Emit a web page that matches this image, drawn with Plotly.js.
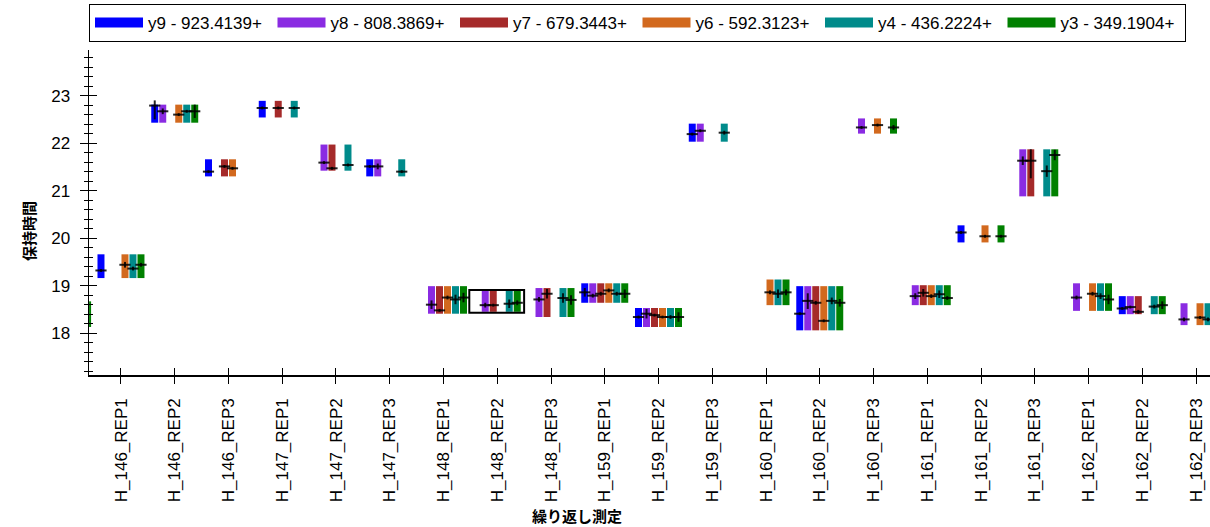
<!DOCTYPE html>
<html>
<head>
<meta charset="utf-8">
<script src="https://cdn.plot.ly/plotly-3.0.1.min.js"></script>
<style>html,body{margin:0;padding:0;background:#fff;}#chart{width:1210px;height:527px;}</style>
</head>
<body>
<div id="chart"></div>
<script>
// ---- data ----
const categories = ["H_146_REP1","H_146_REP2","H_146_REP3","H_147_REP1","H_147_REP2","H_147_REP3",
  "H_148_REP1","H_148_REP2","H_148_REP3","H_159_REP1","H_159_REP2","H_159_REP3",
  "H_160_REP1","H_160_REP2","H_160_REP3","H_161_REP1","H_161_REP2","H_161_REP3",
  "H_162_REP1","H_162_REP2","H_162_REP3"];

// integrated peak boundaries (bar bottom / top) per replicate
const peakStart = [19.16,22.43,21.30,22.54,21.42,21.30,18.41,18.45,18.34,18.64,18.13,22.03,18.59,18.06,22.20,18.59,19.91,20.88,18.47,18.40,18.17];
const peakEnd   = [19.66,22.81,21.66,22.89,21.97,21.66,18.99,18.89,18.95,19.05,18.53,22.41,19.13,18.99,22.52,19.01,20.27,21.87,19.05,18.78,18.63];

const seriesNames = ["y9 - 923.4139+","y8 - 808.3869+","y7 - 679.3443+","y6 - 592.3123+","y4 - 436.2224+","y3 - 349.1904+"];
const seriesColors = ["#0000FF","#8A2BE2","#A52A2A","#D2691E","#008B8B","#008000"];

// retention time of each transition (null = not detected)
const rtY9 = [19.32,22.79,21.40,22.74,null,21.51,null,null,null,18.86,18.34,22.19,null,18.41,null,null,20.12,null,null,18.52,null];
const rtY8 = [null,22.67,null,null,21.59,21.51,18.60,18.59,18.71,18.79,18.41,22.26,null,18.68,22.33,18.78,null,21.63,18.75,18.55,18.29];
const rtY7 = [null,null,21.51,22.74,21.47,null,18.48,18.59,18.83,18.83,18.38,null,null,18.64,null,18.85,null,21.63,null,18.45,null];
const rtY6 = [19.44,22.60,21.47,null,null,null,18.75,null,null,18.90,18.34,null,18.86,18.26,22.38,18.78,20.04,null,18.83,null,18.33];
const rtY4 = [19.36,22.67,null,22.74,21.54,21.40,18.71,18.62,18.74,18.83,18.34,22.22,18.83,18.68,null,18.82,null,21.41,18.78,18.56,18.29];
const rtY3 = [19.44,22.67,null,null,null,null,18.75,18.64,18.70,18.83,18.34,null,18.86,18.64,22.33,18.74,20.04,21.75,18.71,18.59,null];

// vertical extent of the cross markers (up / down)
const errUpY9 = [0.03,0.11,0.03,0.03,0,0.03,0,0,0,0.09,0.03,0.03,0,0.03,0,0,0.03,0,0,0.03,0];
const errDnY9 = [0.03,0.29,0.03,0.03,0,0.03,0,0,0,0.09,0.03,0.03,0,0.03,0,0,0.03,0,0,0.03,0];
const errUpY8 = [0,0.06,0,0,0.03,0.06,0.09,0.05,0.05,0.04,0.10,0.03,0,0.16,0.03,0.06,0,0.09,0.04,0.03,0.04];
const errDnY8 = [0,0.06,0,0,0.03,0.06,0.09,0.05,0.05,0.04,0.10,0.03,0,0.17,0.03,0.06,0,0.09,0.04,0.03,0.04];
const errUpY7 = [0,0,0.03,0.03,0.03,0,0.03,0.03,0.10,0.04,0.03,0,0,0.04,0,0.08,0,0.24,0,0.04,0];
const errDnY7 = [0,0,0.03,0.03,0.03,0,0.03,0.03,0.10,0.04,0.03,0,0,0.04,0,0.08,0,0.37,0,0.04,0];
const errY6 = [0.06,0.03,0.03,0,0,0,0.04,0,0,0.04,0.03,0,0.04,0.03,0.03,0.04,0.03,0,0.04,0,0.03];
const errY4 = [0.04,0.03,0,0.03,0.03,0.03,0.10,0.09,0.10,0.04,0.04,0.04,0.09,0.07,0,0.08,0,0.12,0.06,0.04,0.04];
const errY3 = [0.04,0.14,0,0,0,0,0.10,0.05,0.10,0.09,0.10,0,0.06,0.08,0.05,0.04,0.03,0.11,0.10,0.08,0];

// small green sliver visible at the left axis edge
const edgeSliverY = [18.13, 18.67];
const selectedIndex = 7; // highlighted replicate (H_148_REP2)

// ---- build traces ----
const rtSeries = [rtY9, rtY8, rtY7, rtY6, rtY4, rtY3];
const errUp = [errUpY9, errUpY8, errUpY7, errY6, errY4, errY3];
const errDn = [errDnY9, errDnY8, errDnY7, errY6, errY4, errY3];

const xRange = [-0.595, 20.26];
const slotPitch = 0.1488;
const barWidth = 0.13;
const nSlots = seriesNames.length;

const traces = [];
rtSeries.forEach((rt, s) => {
  const off = (s - (nSlots - 1) / 2) * slotPitch;
  const xs = [], bases = [], lens = [], ys = [], eu = [], ed = [];
  rt.forEach((v, i) => {
    if (v === null) return;
    xs.push(i + off);
    bases.push(peakStart[i]);
    lens.push(peakEnd[i] - peakStart[i]);
    ys.push(v);
    eu.push(errUp[s][i]);
    ed.push(errDn[s][i]);
  });
  traces.push({
    type: 'bar', x: xs, y: lens, base: bases, width: barWidth,
    marker: {color: seriesColors[s], line: {width: 0}},
    showlegend: false, hoverinfo: 'skip'
  });
  traces.push({
    type: 'scatter', mode: 'markers', x: xs, y: ys,
    marker: {symbol: 'line-ew', size: 8, line: {width: 2, color: 'rgba(0,0,0,0.85)'}},
    error_y: {type: 'data', symmetric: false, array: eu, arrayminus: ed, width: 0, thickness: 2, color: 'rgba(0,0,0,0.85)'},
    showlegend: false, hoverinfo: 'skip'
  });
});

// legend entries
seriesNames.forEach((name, s) => {
  traces.push({
    type: 'scatter', mode: 'lines', x: [null], y: [null], name: name,
    line: {color: seriesColors[s], width: 11}
  });
});

// green sliver at axis edge
traces.push({
  type: 'scatter', mode: 'lines', x: [xRange[0] + 0.02, xRange[0] + 0.02], y: edgeSliverY,
  line: {color: '#008000', width: 2}, showlegend: false, hoverinfo: 'skip'
});

// helper trace for the overlay axes (inner half of crossing ticks)
traces.push({type: 'scatter', x: [null], y: [null], xaxis: 'x2', yaxis: 'y2', showlegend: false, hoverinfo: 'skip'});

// selection rectangle around highlighted replicate
const selPadX = 0.52;
const shapes = [{
  type: 'rect', xref: 'x', yref: 'y',
  x0: selectedIndex - selPadX, x1: selectedIndex + selPadX - 0.02,
  y0: peakStart[selectedIndex] - 0.02, y1: peakEnd[selectedIndex] + 0.02,
  line: {color: '#000', width: 2}, fillcolor: 'rgba(0,0,0,0)'
}];

const tickFont = {family: 'Liberation Sans, Arial, sans-serif', size: 17, color: '#000'};
const tickIdx = categories.map((c, i) => i);
const yRange = [17.12, 23.96];

const layout = {
  width: 1210, height: 527,
  margin: {l: 89, r: 0, t: 50, b: 152, autoexpand: false},
  paper_bgcolor: '#fff', plot_bgcolor: '#fff',
  barmode: 'overlay',
  showlegend: true,
  legend: {
    orientation: 'h', x: 0, xanchor: 'left', y: 1.025, yanchor: 'bottom',
    bordercolor: '#000', borderwidth: 1, font: tickFont,
    entrywidth: 119.5, entrywidthmode: 'pixels', itemwidth: 48, traceorder: 'normal'
  },
  xaxis: {
    range: xRange, tickmode: 'array', tickvals: tickIdx, ticktext: categories,
    tickangle: -90, ticks: 'outside', ticklen: 7, tickwidth: 1, tickcolor: '#000',
    showline: true, linecolor: '#000', linewidth: 1.5, showgrid: false, zeroline: false,
    tickfont: tickFont, ticklabelstandoff: 8, fixedrange: true
  },
  xaxis2: {
    range: xRange, overlaying: 'x', anchor: 'y', side: 'bottom', tickmode: 'array', tickvals: tickIdx,
    ticks: 'inside', ticklen: 7, tickwidth: 1, tickcolor: '#000', showticklabels: false,
    showline: false, showgrid: false, zeroline: false
  },
  yaxis: {
    range: yRange, tick0: 0, dtick: 1, ticks: 'outside', ticklen: 8, tickwidth: 1, tickcolor: '#000',
    minor: {tick0: 0, dtick: 0.2, ticks: 'outside', ticklen: 4, tickwidth: 1, tickcolor: '#000', showgrid: false},
    showline: true, linecolor: '#000', linewidth: 1.5, showgrid: false, zeroline: false,
    tickfont: tickFont, ticklabelstandoff: 6
  },
  yaxis2: {
    range: yRange, overlaying: 'y', anchor: 'x', side: 'left', tick0: 0, dtick: 1,
    ticks: 'inside', ticklen: 8, tickwidth: 1, tickcolor: '#000',
    minor: {tick0: 0, dtick: 0.2, ticks: 'inside', ticklen: 4, tickwidth: 1, tickcolor: '#000', showgrid: false},
    showticklabels: false, showline: false, showgrid: false, zeroline: false
  },
  shapes: shapes,
  annotations: [
    {text: '<b>繰り返し測定</b>', xref: 'paper', yref: 'paper', x: 0.435, y: -0.4308, xanchor: 'center', yanchor: 'middle',
     showarrow: false, font: {family: 'Noto Sans CJK JP, sans-serif', size: 15, color: '#000'}},
    {text: '<b>保持時間</b>', xref: 'paper', yref: 'paper', x: -0.0544, y: 0.443, xanchor: 'center', yanchor: 'middle',
     textangle: -90, showarrow: false, font: {family: 'Noto Sans CJK JP, sans-serif', size: 15, color: '#000'}}
  ]
};

Plotly.newPlot('chart', traces, layout, {displayModeBar: false, staticPlot: true});
</script>
</body>
</html>
